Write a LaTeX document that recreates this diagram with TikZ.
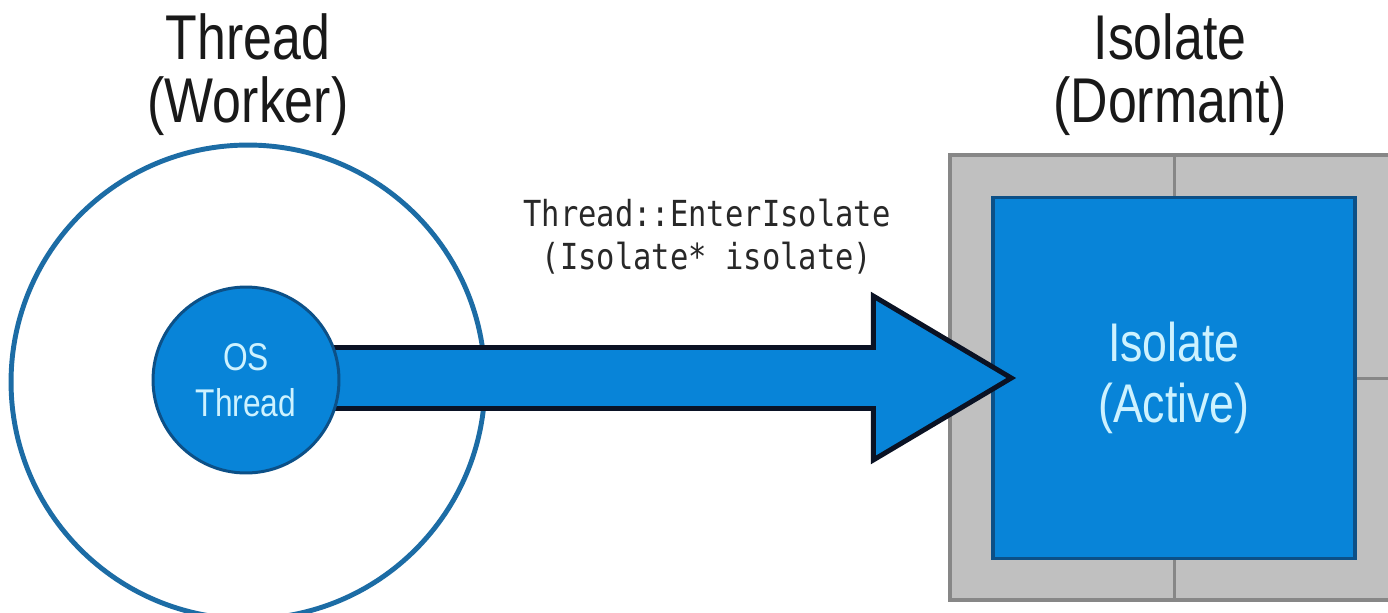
\documentclass[tikz,border=0pt]{standalone}
\usepackage{fontspec}
\setmainfont{Liberation Sans}[FakeStretch=0.82]
\setmonofont{DejaVu Sans Mono}[FakeStretch=0.85]
\usetikzlibrary{calc,positioning}

\definecolor{isoblue}{RGB}{8,132,216}
\definecolor{coreedge}{RGB}{12,80,135}
\definecolor{ringblue}{RGB}{28,108,165}
\definecolor{paletext}{RGB}{205,242,255}
\definecolor{arrowedge}{RGB}{10,18,36}
\definecolor{framefill}{RGB}{192,192,192}
\definecolor{framegray}{RGB}{135,135,135}
\definecolor{codegray}{RGB}{40,40,40}

\begin{document}
\begin{tikzpicture}[
    x=0.02cm, y=-0.02cm,
    title/.style={font=\fontsize{36}{36}\selectfont, align=center, text=black!90},
    ring/.style={circle, draw=ringblue, line width=2.8pt, minimum size=9.48cm},
    core/.style={circle, draw=coreedge, fill=isoblue, line width=1.7pt,
        minimum size=3.72cm, text=paletext, align=center,
        font=\fontsize{22}{26}\selectfont},
    active/.style={draw=coreedge, fill=isoblue, line width=2pt,
        minimum width=7.24cm, minimum height=7.22cm, text=paletext,
        align=center, font=\fontsize{31}{35}\selectfont},
    frame/.style={draw=framegray, fill=framefill, line width=2.3pt},
    divider/.style={draw=framegray, line width=1.7pt},
    bigarrow/.style={draw=arrowedge, fill=isoblue, line width=2.8pt, line join=miter},
    code/.style={font=\ttfamily\fontsize{20.4}{24.5}\selectfont, align=center, text=codegray}
]
    \useasboundingbox (0,0) rectangle (1388,612);
    \fill[white] (0,0) rectangle (1388,612);
    \clip (0,0) rectangle (1388,612);

    % isolate side: grey frame with the active isolate inside
    \draw[frame] (950,155) rectangle (1410,600);
    \node[active] (active) at (1174,378) {Isolate\\(Active)};
    \draw[divider] (active.north) -- ++(0,-42);
    \draw[divider] (active.south) -- ++(0,42);
    \draw[divider] (active.east) -- ++(60,0);

    % worker thread
    \node[ring] (worker) at (248,382) {};

    % EnterIsolate arrow
    \coordinate (tip) at ($(active.west)+(20,0)$);
    \coordinate (neck) at ($(tip)+(-138,0)$);
    \coordinate (tail) at (tip -| worker.center);
    \draw[bigarrow] ($(tail)+(0,-30.5)$) -- ($(neck)+(0,-30.5)$) -- ($(neck)+(0,-82)$)
        -- (tip) -- ($(neck)+(0,82)$) -- ($(neck)+(0,30.5)$) -- ($(tail)+(0,30.5)$) -- cycle;

    \node[core] (os) at (246,380) {OS\\Thread};

    \node[title] (wtitle) at (248,75) {Thread\\(Worker)};
    \node[title] (ititle) at (1170,75) {Isolate\\(Dormant)};
    \node[code] (call) at (707,237) {Thread::EnterIsolate\\(Isolate* isolate)};
\end{tikzpicture}
\end{document}
